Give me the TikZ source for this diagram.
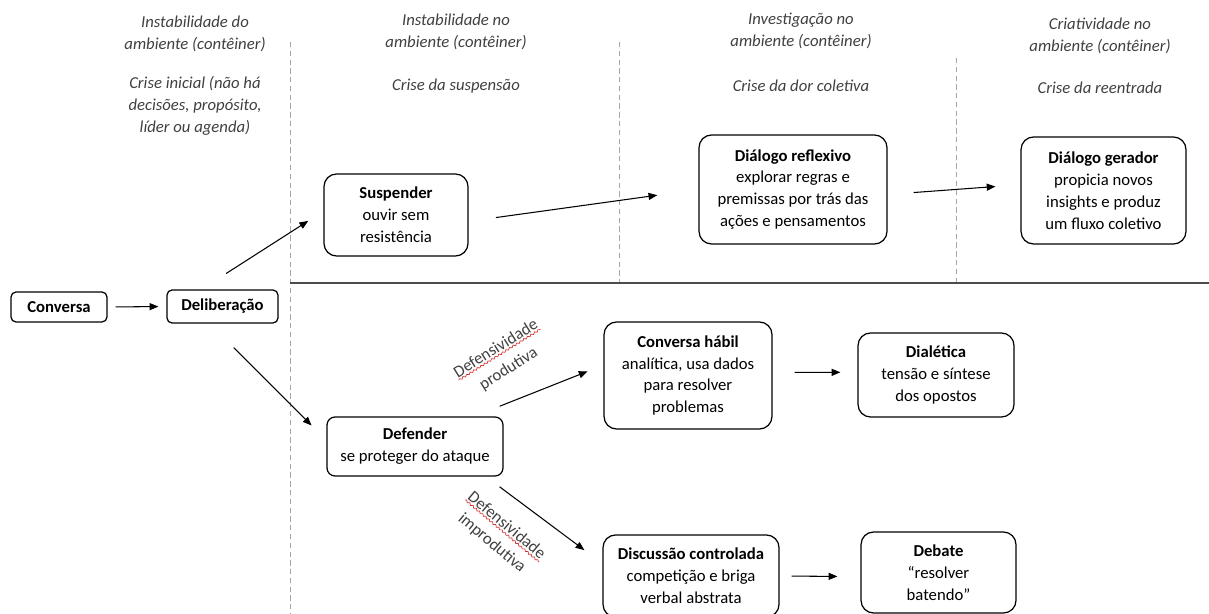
\documentclass[tikz,border=0pt]{standalone}
\usepackage{fontspec}
\setmainfont{Carlito}
\usepackage{tikz}
\usetikzlibrary{arrows.meta}
\usetikzlibrary{decorations.pathmorphing}
\definecolor{headColor}{rgb}{0.25,0.25,0.25}
\definecolor{waveColor}{rgb}{0.85,0.2,0.2}

\begin{document}
\begin{tikzpicture}[x=0.02cm, y=-0.02cm]

          \tikzstyle{headNode} = [headColor, align=center, font=\fontsize{9.5}{12.5}\selectfont\itshape];
          \tikzstyle{boxNode} = [draw, line width=0.7pt, rounded corners=0.25cm, align=center, inner sep=0pt, font=\fontsize{9.5}{12.5}\selectfont];
          \tikzstyle{smallBox} = [boxNode, rounded corners=0.1cm];
          \tikzstyle{tagNode} = [headColor, inner xsep=0pt, inner ysep=1pt, transform shape, font=\fontsize{9.5}{12.5}\selectfont];

          \tikzstyle{arrowEdge} = [-{Triangle[length=5pt,width=4pt]}, line width=0.6pt];
          \tikzstyle{dashLine} = [gray!70, line width=0.5pt, dash pattern=on 3pt off 2pt];
          \tikzstyle{sepLine} = [black!70, line width=0.9pt];
          \tikzstyle{waveLine} = [waveColor, line width=0.4pt, decorate, decoration={snake, amplitude=0.5pt, segment length=2.4pt}];

          \useasboundingbox (0,0) rectangle (1209,614);

          \node[headNode] (h1a) at (195,33.5) {Instabilidade do\\ambiente (contêiner)};
          \node[headNode] (h1b) at (195,106) {Crise inicial (não há\\decisões, propósito,\\líder ou agenda)};
          \node[headNode] (h2a) at (456,31.5) {Instabilidade no\\ambiente (contêiner)};
          \node[headNode] (h2b) at (456,86) {Crise da suspensão};
          \node[headNode] (h3a) at (801,31) {Investigação no\\ambiente (contêiner)};
          \node[headNode] (h3b) at (801,86) {Crise da dor coletiva};
          \node[headNode] (h4a) at (1100,35.5) {Criatividade no\\ambiente (contêiner)};
          \node[headNode] (h4b) at (1100,88) {Crise da reentrada};

          \draw[dashLine] (290,42) -- (290,614);
          \draw[dashLine] (619,42) -- (619,283);
          \draw[dashLine] (956,58) -- (956,283);
          \draw[sepLine] (290,283) -- (1209,283);

          \node[smallBox, minimum width=1.92cm, minimum height=0.60cm] (conv) at (59,307) {\textbf{Conversa}};
          \node[smallBox, minimum width=2.22cm, minimum height=0.66cm] (delib) at (222.5,306.5) {\textbf{Deliberação}};
          \node[boxNode, minimum width=2.88cm, minimum height=1.64cm] (susp) at (396,215) {\textbf{Suspender}\\ouvir sem\\resistência};
          \node[boxNode, minimum width=3.76cm, minimum height=2.18cm] (refl) at (793,189.5) {\textbf{Diálogo reflexivo}\\explorar regras e\\premissas por trás das\\ações e pensamentos};
          \node[boxNode, minimum width=3.30cm, minimum height=2.14cm] (gera) at (1103.5,190.5) {\textbf{Diálogo gerador}\\propicia novos\\insights e produz\\um fluxo coletivo};
          \node[boxNode, rounded corners=0.16cm, minimum width=3.52cm, minimum height=1.18cm] (defd) at (415,446.5) {\textbf{Defender}\\se proteger do ataque};
          \node[boxNode, minimum width=3.36cm, minimum height=2.14cm] (habil) at (688,375.5) {\textbf{Conversa hábil}\\analítica, usa dados\\para resolver\\problemas};
          \node[boxNode, minimum width=3.12cm, minimum height=1.68cm] (dial) at (936,375) {\textbf{Dialética}\\tensão e síntese\\dos opostos};
          \node[boxNode, minimum width=3.52cm, minimum height=1.64cm] (disc) at (691,576) {\textbf{Discussão controlada}\\competição e briga\\verbal abstrata};
          \node[boxNode, minimum width=3.10cm, minimum height=1.62cm] (deb) at (938.5,572.5) {\textbf{Debate}\\“resolver\\batendo”};

          \draw[arrowEdge, shorten <=0.16cm, shorten >=0.16cm] (conv.east) -- (delib.west);
          \draw[arrowEdge, shorten <=0.59cm, shorten >=0.36cm] (delib.141) -- (susp.177);
          \draw[arrowEdge, shorten <=0.68cm, shorten >=0.42cm] (delib.-127) -- (defd.176);
          \draw[arrowEdge, shorten <=0.55cm, shorten >=0.83cm] (susp.-5) -- (refl.west);
          \draw[arrowEdge, shorten <=0.52cm, shorten >=0.50cm] (refl.-3) -- (gera.176);
          \draw[arrowEdge, shorten <=0.55cm, shorten >=0.34cm] (defd.27) -- (habil.173);
          \draw[arrowEdge, shorten <=0.34cm, shorten >=0.45cm] (defd.-23) -- (disc.172);
          \draw[arrowEdge, shorten <=0.44cm, shorten >=0.34cm] (habil.2) -- (dial.178);
          \draw[arrowEdge, shorten <=0.24cm, shorten >=0.46cm] (disc.east) -- (deb.183);

          \begin{scope}[shift={(502,358.5)}, rotate=32]
            \node[tagNode] (prodA) at (0,-12.5) {Defensividade};
            \node[tagNode] (prodB) at (0,12.5) {produtiva};
            \draw[waveLine] (prodA.south west) -- (prodA.south east);
          \end{scope}

          \begin{scope}[shift={(499.5,534)}, rotate=-40]
            \node[tagNode] (impA) at (0,-12) {Defensividade};
            \node[tagNode] (impB) at (0,12) {improdutiva};
            \draw[waveLine] (impA.south west) -- (impA.south east);
          \end{scope}
        \end{tikzpicture}
\end{document}
